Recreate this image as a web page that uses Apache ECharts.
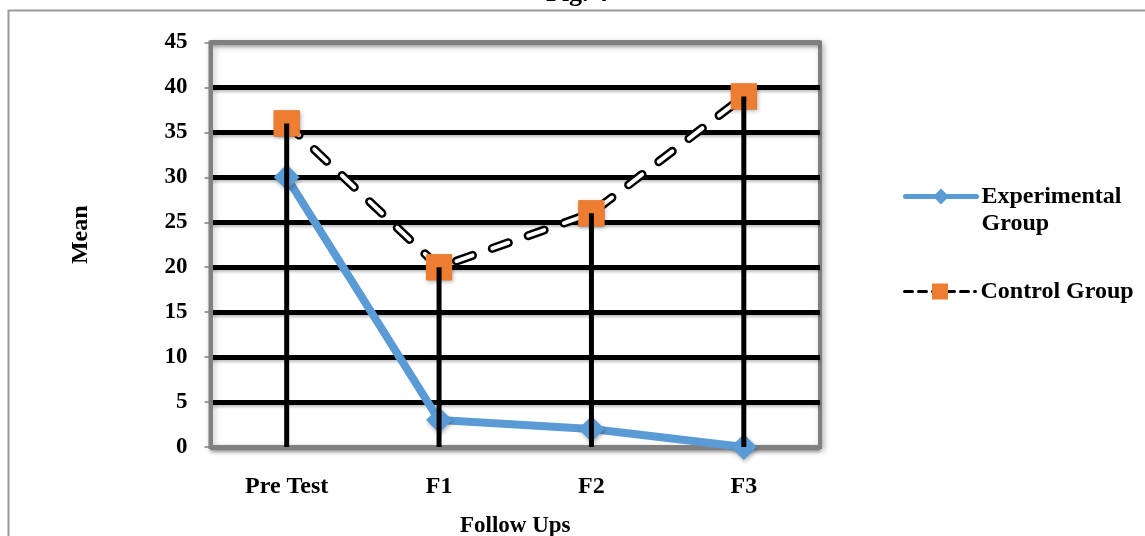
<!DOCTYPE html>
<html>
<head>
<meta charset="utf-8">
<script src="https://cdn.jsdelivr.net/npm/echarts@6/dist/echarts.min.js"></script>
<style>
html,body{margin:0;padding:0;background:#fff;}
#chart{width:1145px;height:536px;}
</style>
</head>
<body>
<div id="chart"></div>
<script>
const categories = ['Pre Test', 'F1', 'F2', 'F3'];
const experimental = [30, 3, 2, 0];
const control = [36, 20, 26, 39];
const yMin = 0, yMax = 45, yStep = 5;

const FONT = "'Liberation Serif', 'Times New Roman', serif";
const dropLines = control.map((v, i) => Math.max(v, experimental[i]));
const splitColors = [];
for (let v = yMin; v <= yMax; v += yStep) {
  splitColors.push(v === yMin || v === yMax ? '#808080' : '#000000');
}

const chart = echarts.init(document.getElementById('chart'), null, {renderer: 'canvas', width: 1145, height: 536});
chart.setOption({
  backgroundColor: '#ffffff',
  animation: false,
  title: {
    text: 'Fig. 4',
    left: 546, top: -19, padding: 0,
    textStyle: {fontFamily: FONT, fontWeight: 'bold', fontSize: 26, color: '#000'}
  },
  graphic: [{
    type: 'rect', z: -10, silent: true,
    shape: {x: 8.5, y: 10.5, width: 1300, height: 700},
    style: {fill: 'none', stroke: '#9a9a9a', lineWidth: 2}
  }],
  grid: {
    left: 210.5, width: 609.5, top: 42.5, height: 404.5,
    containLabel: false,
    outerBoundsMode: 'none',
    show: true, borderColor: '#808080', borderWidth: 4,
    backgroundColor: '#ffffff',
    shadowColor: 'rgba(0,0,0,0.25)', shadowBlur: 6, shadowOffsetX: 2, shadowOffsetY: 2
  },
  legend: [{
    data: ['Experimental Group'],
    orient: 'vertical', left: 903, top: 156, padding: 0,
    itemWidth: 71, itemHeight: 20,
    lineStyle: {width: 5},
    formatter: () => ' \nExperimental\nGroup',
    textStyle: {fontFamily: FONT, fontWeight: 'bold', fontSize: 24, lineHeight: 27, color: '#000'}
  }, {
    data: ['Control Group'],
    orient: 'vertical', left: 903, top: 278, padding: 0,
    itemWidth: 71, itemHeight: 20,
    lineStyle: {width: 3, type: [8, 6]},
    textStyle: {fontFamily: FONT, fontWeight: 'bold', fontSize: 24, lineHeight: 27, color: '#000'}
  }],
  xAxis: {
    type: 'category',
    data: categories,
    boundaryGap: true,
    name: 'Follow Ups',
    nameLocation: 'middle',
    nameGap: 68,
    nameTextStyle: {fontFamily: FONT, fontWeight: 'bold', fontSize: 23, color: '#000'},
    axisLine: {show: true, lineStyle: {color: '#808080', width: 4}},
    axisTick: {show: false},
    axisLabel: {margin: 28, fontFamily: FONT, fontWeight: 'bold', fontSize: 24, color: '#000'},
    splitLine: {show: false}
  },
  yAxis: {
    type: 'value',
    min: yMin, max: yMax, interval: yStep,
    name: 'Mean',
    nameLocation: 'middle',
    nameRotate: 90,
    nameGap: 118,
    nameTextStyle: {fontFamily: FONT, fontWeight: 'bold', fontSize: 24, color: '#000', padding: [0, 0, 0, 20]},
    axisLine: {show: true, lineStyle: {color: '#808080', width: 4}},
    axisTick: {show: true, length: 6, lineStyle: {color: '#808080', width: 1.5}},
    axisLabel: {margin: 23, fontFamily: FONT, fontWeight: 'bold', fontSize: 23, color: '#000'},
    splitLine: {show: true, lineStyle: {color: splitColors, width: 5, shadowColor: 'rgba(0,0,0,0.25)', shadowBlur: 3, shadowOffsetY: 2}}
  },
  series: [{
    name: 'Experimental Group',
    type: 'line',
    data: experimental,
    z: 3, clip: false,
    symbol: 'diamond', symbolSize: 26,
    lineStyle: {color: '#5B9BD5', width: 8, cap: 'round', join: 'round'},
    itemStyle: {color: '#5B9BD5', shadowColor: 'rgba(0,0,0,0.3)', shadowBlur: 4, shadowOffsetX: 1, shadowOffsetY: 2}
  }, {
    name: 'Control Group',
    type: 'line',
    data: control,
    z: 4, clip: false,
    symbol: 'rect', symbolSize: 26,
    lineStyle: {color: '#000000', width: 9, type: [17, 21], cap: 'round'},
    itemStyle: {color: '#ED7D31'}
  }, {
    name: 'Control Group (inner)',
    type: 'line',
    data: control,
    z: 5, clip: false,
    symbol: 'rect', symbolSize: 26,
    lineStyle: {color: '#ffffff', width: 4, type: [17, 21], cap: 'round'},
    itemStyle: {color: '#ED7D31', shadowColor: 'rgba(0,0,0,0.3)', shadowBlur: 4, shadowOffsetX: 1, shadowOffsetY: 2}
  }, {
    name: 'Drop Lines',
    type: 'bar',
    data: dropLines,
    z: 10,
    barWidth: 5,
    silent: true,
    itemStyle: {color: '#000000'}
  }]
});
</script>
</body>
</html>
